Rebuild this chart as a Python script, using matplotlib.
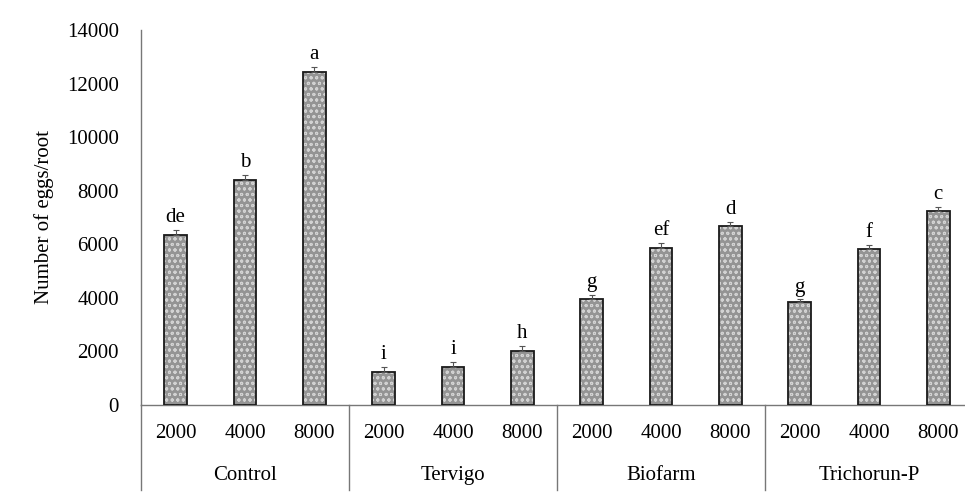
import matplotlib
matplotlib.use("Agg")
import matplotlib.pyplot as plt
import matplotlib.transforms as mtransforms
import numpy as np

plt.rcParams['font.family'] = ['Liberation Serif', 'DejaVu Serif']
plt.rcParams['hatch.linewidth'] = 0.7

groups = ["Control", "Tervigo", "Biofarm", "Trichorun-P"]
doses = ["2000", "4000", "8000"]
values = [6350, 8400, 12450,
          1230, 1420, 2020,
          3950, 5880, 6680,
          3840, 5820, 7230]
errors = [200, 180, 170,
          180, 200, 190,
          150, 170, 160,
          100, 160, 170]
letters = ["de", "b", "a",
           "i", "i", "h",
           "g", "ef", "d",
           "g", "f", "c"]
yticks = [0, 2000, 4000, 6000, 8000, 10000, 12000, 14000]

FS = 15

fig = plt.figure(figsize=(9.65, 4.95), dpi=100)
ax = fig.add_axes([141/965, 90/495, 832/965, 375/495])

n = len(values)
x = np.arange(n)
w = 0.33
ax.bar(x, values, width=w, color='#949494', edgecolor='#d2d2d2', hatch='ooo',
       linewidth=0, zorder=2)
ax.bar(x, values, width=w, facecolor='none', edgecolor='#1a1a1a', linewidth=1.3, zorder=3)
ax.errorbar(x, values, yerr=[np.zeros(n), errors], fmt='none', ecolor='#555555',
            elinewidth=0.8, capsize=2.5, capthick=0.8, zorder=4)

for xi, v, e, t in zip(x, values, errors, letters):
    ax.annotate(t, (xi, v + e), xytext=(0, 2), textcoords='offset points',
                ha='center', va='bottom', fontsize=FS)

ax.set_xlim(-0.5, n - 0.5)
ax.set_ylim(0, 14000)
ax.set_yticks(yticks)
ax.set_yticklabels([str(t) for t in yticks], fontsize=FS)
ax.tick_params(axis='y', length=0, pad=16)
ax.set_xticks(x)
ax.set_xticklabels(doses * len(groups), fontsize=FS)
ax.tick_params(axis='x', length=0, pad=14)
ax.set_ylabel("Number of eggs/root", fontsize=FS, labelpad=9)

for s in ['top', 'right']:
    ax.spines[s].set_visible(False)
ax.spines['left'].set_color('#777777')
ax.spines['bottom'].set_color('#777777')
ax.spines['left'].set_linewidth(1.0)
ax.spines['bottom'].set_linewidth(1.0)

trans = mtransforms.blended_transform_factory(ax.transData, ax.transAxes)
for gi, g in enumerate(groups):
    center = gi * 3 + 1
    ax.text(center, -0.187, g, transform=trans, ha='center', va='center', fontsize=FS)
for gi in range(len(groups) + 1):
    xb = gi * 3 - 0.5
    ax.plot([xb, xb], [0, -0.227], transform=trans, color='#777777', lw=1.0, clip_on=False)

fig.savefig("out.png", dpi=100)
